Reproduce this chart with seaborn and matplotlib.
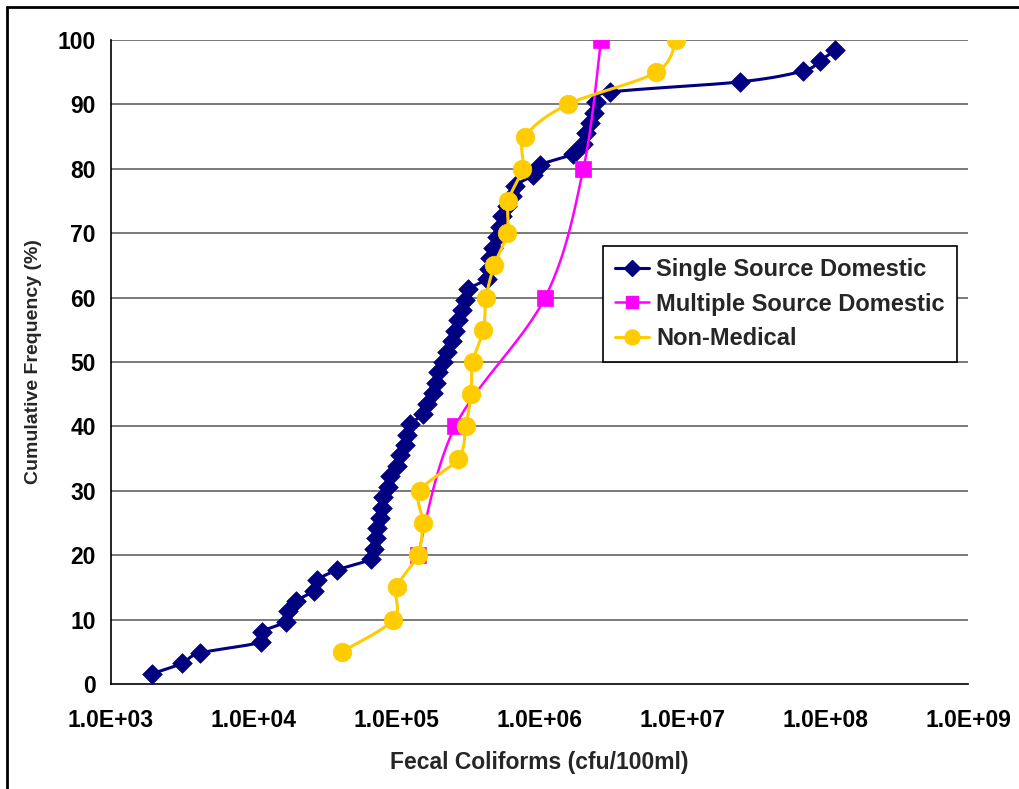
import numpy as np
import pandas as pd
import matplotlib
matplotlib.use("Agg")
import matplotlib.pyplot as plt
from matplotlib.lines import Line2D
import seaborn as sns

# ---------------- data ----------------
single_x = [1940, 3140, 4200, 11200, 11400, 16800, 17300, 19800, 26400, 27700,
            38300, 66200, 69500, 71800, 72900, 76500, 79000, 80400, 87100, 89900,
            100700, 105700, 114600, 118300, 124200, 153100, 163300, 179900, 188800, 195000,
            211300, 225400, 244300, 256500, 269200, 287100, 301300, 316200, 429500, 443500,
            450700, 473000, 504500, 529500, 547000, 592900, 642600, 674400, 901700, 1009000,
            1718000, 2018000, 2118000, 2259000, 2410000, 2489000, 3119000, 25400000, 70200000, 92300000,
            117500000]
single_y = [1.6, 3.2, 4.8, 6.5, 8.1, 9.7, 11.3, 12.9, 14.5, 16.1,
            17.7, 19.4, 21.0, 22.6, 24.2, 25.8, 27.4, 29.0, 30.6, 32.3,
            33.9, 35.5, 37.1, 38.7, 40.3, 41.9, 43.5, 45.2, 46.8, 48.4,
            50.0, 51.6, 53.2, 54.8, 56.5, 58.1, 59.7, 61.3, 62.9, 64.5,
            66.1, 67.7, 69.4, 71.0, 72.6, 74.2, 75.8, 77.4, 79.0, 80.6,
            82.3, 83.9, 85.5, 87.1, 88.7, 90.3, 91.9, 93.5, 95.2, 96.8,
            98.4]

multi_x = [140600, 256500, 1094000, 2028000, 2698000]
multi_y = [20, 40, 60, 80, 100]

nonmed_x = [41300, 94900, 100200, 140000, 152000, 146000, 270000, 305000, 332000, 341000,
            405000, 423000, 482000, 595000, 605000, 759000, 793000, 1578000, 6560000, 9060000]
nonmed_y = [5, 10, 15, 20, 25, 30, 35, 40, 45, 50,
            55, 60, 65, 70, 75, 80, 85, 90, 95, 100]

series_names = ["Single Source Domestic", "Multiple Source Domestic", "Non-Medical"]
x_ticks = [1e3, 1e4, 1e5, 1e6, 1e7, 1e8, 1e9]
x_tick_labels = ["1.0E+03", "1.0E+04", "1.0E+05", "1.0E+06", "1.0E+07", "1.0E+08", "1.0E+09"]
y_ticks = [0, 10, 20, 30, 40, 50, 60, 70, 80, 90, 100]


def smooth(xs, ys, n=24):
    """Excel-like smoothed line (Catmull-Rom Bezier) in log-x / y space."""
    lx = np.log10(np.asarray(xs, float))
    y = np.asarray(ys, float)
    P = np.column_stack([lx, y])
    out = []
    m = len(P)
    t = np.linspace(0, 1, n)[:, None]
    for i in range(m - 1):
        p0 = P[i - 1] if i > 0 else P[i]
        p1 = P[i]
        p2 = P[i + 1]
        p3 = P[i + 2] if i + 2 < m else P[i + 1]
        b1 = p1 + (p2 - p0) / 6.0
        b2 = p2 - (p3 - p1) / 6.0
        seg = ((1 - t) ** 3) * p1 + 3 * ((1 - t) ** 2) * t * b1 + 3 * (1 - t) * t ** 2 * b2 + t ** 3 * p2
        out.append(seg if i == 0 else seg[1:])
    c = np.vstack(out)
    return pd.DataFrame({"x": 10 ** c[:, 0], "y": c[:, 1]})


sns.set_style("white")
plt.rcParams['font.family'] = ['Liberation Sans', 'DejaVu Sans']
plt.rcParams['font.weight'] = 'bold'

fig = plt.figure(figsize=(10.19, 7.89), dpi=100)
ax = fig.add_axes([111 / 1019, 1 - 684 / 789, (968 - 111) / 1019, (684 - 40) / 789])

colors = ["#000080", "#FF00FF", "#FFCC00"]
markers = ["D", "s", "o"]
msizes = [100, 130, 180]
lws = [2.2, 1.8, 2.2]
data = [(single_x, single_y), (multi_x, multi_y), (nonmed_x, nonmed_y)]

# gridlines
for yv in y_ticks[1:]:
    ax.axhline(yv, color="#555555", lw=1.1, zorder=0)

for k, ((xs, ys), c, mk, ms, lw) in enumerate(zip(data, colors, markers, msizes, lws)):
    sm = smooth(xs, ys)
    sns.lineplot(data=sm, x="x", y="y", sort=False, color=c, lw=lw, ax=ax,
                 zorder=2 + 2 * k, estimator=None)
    pts = pd.DataFrame({"x": xs, "y": ys})
    sns.scatterplot(data=pts, x="x", y="y", marker=mk, s=ms, color=c,
                    edgecolor=c, linewidth=0.5, ax=ax, zorder=3 + 2 * k)

ax.set_xscale("log")
ax.set_xlim(1e3, 1e9)
ax.set_ylim(0, 100)
ax.set_xticks(x_ticks)
ax.set_xticklabels(x_tick_labels)
ax.minorticks_off()
ax.set_yticks(y_ticks)
ax.set_yticklabels([str(v) for v in y_ticks])
ax.tick_params(axis="both", which="major", direction="out", length=6, width=1,
               color="black", labelsize=16.5, labelcolor="black")
ax.tick_params(axis="x", pad=12)
ax.tick_params(axis="y", pad=5)
for lab in ax.get_xticklabels() + ax.get_yticklabels():
    lab.set_fontweight("bold")

for s in ["top", "right"]:
    ax.spines[s].set_visible(False)
for s in ["left", "bottom"]:
    ax.spines[s].set_color("black")
    ax.spines[s].set_linewidth(1.2)

ax.set_xlabel("Fecal Coliforms (cfu/100ml)", fontsize=16.5, fontweight="bold", labelpad=14)
ax.set_ylabel("Cumulative Frequency (%)", fontsize=14, fontweight="bold", labelpad=11)

handles = [Line2D([0], [0], color=c, lw=lw, marker=mk, markersize=ms ** 0.5 * 0.8,
                  markerfacecolor=c, markeredgecolor=c)
           for c, mk, ms, lw in zip(colors, markers, msizes, lws)]
leg = ax.legend(handles, series_names, loc="upper left",
                bbox_to_anchor=((603 - 111) / 857, (684 - 246) / 644),
                borderaxespad=0,
                frameon=True, fancybox=False, framealpha=1, edgecolor="black",
                prop={"size": 17, "weight": "bold"}, handlelength=1.45,
                borderpad=0.5, labelspacing=0.5, handletextpad=0.3)
leg.get_frame().set_linewidth(1.2)

# chart-area border
fig.add_artist(Line2D([7 / 1019, 7 / 1019], [0, 1 - 7 / 789], color="black", lw=2, transform=fig.transFigure))
fig.add_artist(Line2D([7 / 1019, 1], [1 - 7 / 789, 1 - 7 / 789], color="black", lw=2, transform=fig.transFigure))

fig.savefig("out.png", dpi=100)
